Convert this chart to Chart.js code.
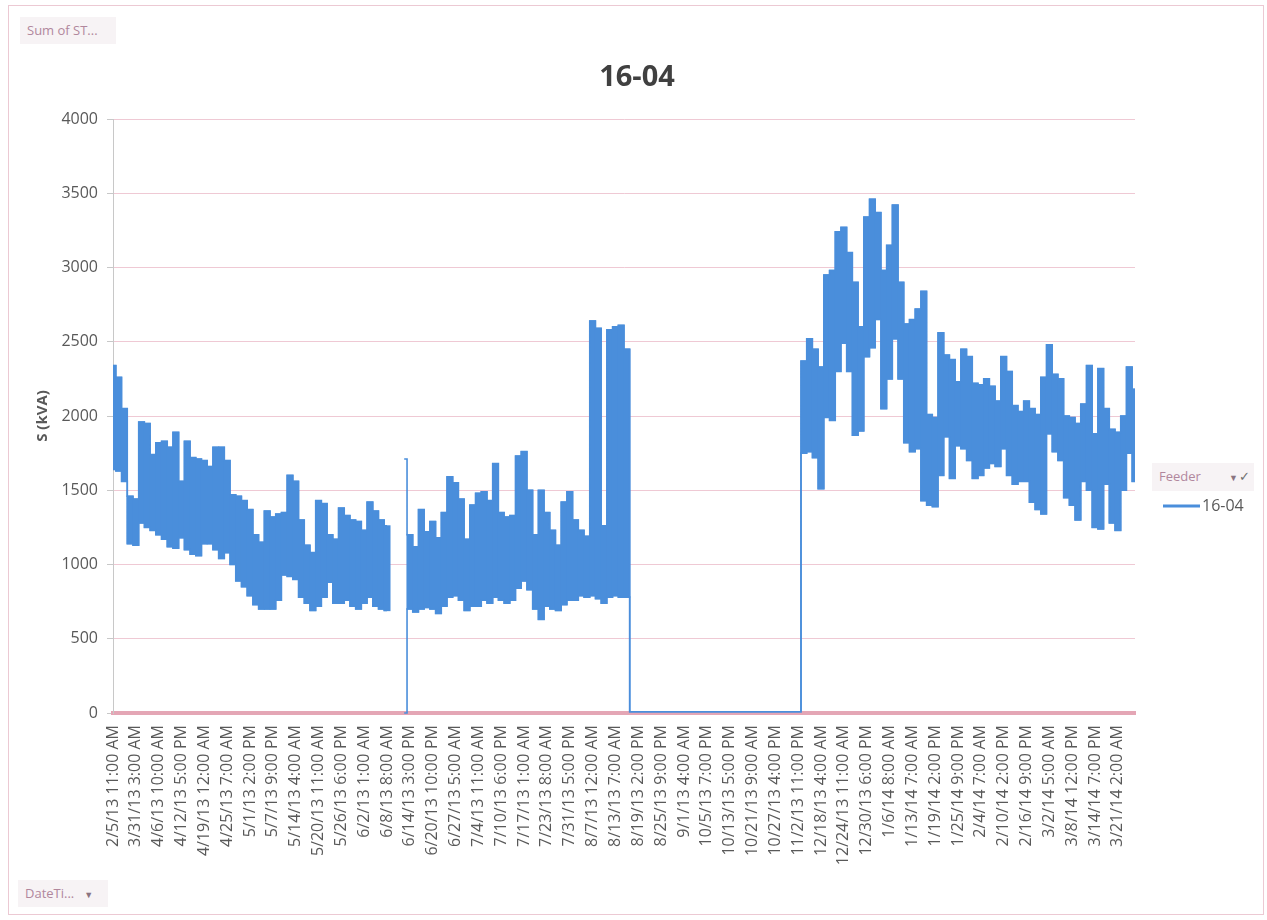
<!DOCTYPE html>
<html>
<head>
<meta charset="utf-8">
<title>16-04</title>
<script src="https://cdn.jsdelivr.net/npm/chart.js@4.4.1/dist/chart.umd.min.js"></script>
<style>
  html, body { margin: 0; padding: 0; background: #ffffff; }
  #wrap { position: relative; width: 1267px; height: 920px; overflow: hidden; }
  #frame { position: absolute; left: 8px; top: 5px; width: 1256px; height: 910px;
           border: 1px solid #ecc9d3; box-sizing: border-box; }
  canvas { position: absolute; left: 0; top: 0; }
  .fieldBtn { position: absolute; background: #f7f3f5; color: #b1879d;
              font: 13px "Open Sans", sans-serif; line-height: 26px; padding: 0 7px;
              box-sizing: border-box; white-space: nowrap; }
  .fieldBtn .arrow { font-size: 9px; margin-left: 10px; color: #8a7480; }
  .fieldBtn .check { color: #6f6f6f; font-size: 13px; margin-left: 1px; }
</style>
</head>
<body>
<div id="wrap">
  <div id="frame"></div>
  <canvas id="chart" width="1267" height="920"></canvas>
  <div class="fieldBtn" style="left:20px; top:17px; width:96px; height:27px;">Sum of ST...</div>
  <div class="fieldBtn" style="left:18px; top:880px; width:90px; height:27px;">DateTi...<span class="arrow">&#9660;</span></div>
  <div class="fieldBtn" style="left:1152px; top:463px; width:102px; height:28px;">Feeder<span class="arrow" style="margin-left:28px;">&#9660;</span><span class="check">&#10003;</span></div>
</div>
<script>
// Chart text
const chartTitle = '16-04';
const seriesName = '16-04';
const yAxisTitle = 'S (kVA)';

// Category labels shown along the date axis (one every few readings)
const tickLabels = [
  '2/5/13 11:00 AM', '3/31/13 3:00 AM', '4/6/13 10:00 AM', '4/12/13 5:00 PM',
  '4/19/13 12:00 AM', '4/25/13 7:00 AM', '5/1/13 2:00 PM', '5/7/13 9:00 PM',
  '5/14/13 4:00 AM', '5/20/13 11:00 AM', '5/26/13 6:00 PM', '6/2/13 1:00 AM',
  '6/8/13 8:00 AM', '6/14/13 3:00 PM', '6/20/13 10:00 PM', '6/27/13 5:00 AM',
  '7/4/13 11:00 AM', '7/10/13 6:00 PM', '7/17/13 1:00 AM', '7/23/13 8:00 AM',
  '7/31/13 5:00 PM', '8/7/13 12:00 AM', '8/13/13 7:00 AM', '8/19/13 2:00 PM',
  '8/25/13 9:00 PM', '9/1/13 4:00 AM', '10/5/13 7:00 PM', '10/13/13 5:00 PM',
  '10/21/13 9:00 AM', '10/27/13 4:00 PM', '11/2/13 11:00 PM', '12/18/13 4:00 AM',
  '12/24/13 11:00 AM', '12/30/13 6:00 PM', '1/6/14 8:00 AM', '1/13/14 7:00 AM',
  '1/19/14 2:00 PM', '1/25/14 9:00 PM', '2/4/14 7:00 AM', '2/10/14 2:00 PM',
  '2/16/14 9:00 PM', '3/2/14 5:00 AM', '3/8/14 12:00 PM', '3/14/14 7:00 PM',
  '3/21/14 2:00 AM'
];
const readingsPerLabel = 4;

// Feeder 16-04 apparent power, kVA: highest and lowest reading in each slot
const upperKVA = [
  2340, 2260, 2050, 1460, 1440, 1960, 1950, 1740, 1820, 1830,
  1790, 1890, 1560, 1830, 1720, 1710, 1700, 1660, 1790, 1790,
  1700, 1470, 1460, 1430, 1370, 1200, 1150, 1360, 1320, 1340,
  1350, 1600, 1560, 1300, 1130, 1080, 1430, 1410, 1200, 1170,
  1380, 1330, 1300, 1290, 1230, 1420, 1360, 1300, 1260, null,
  null, 1710, 1200, 1120, 1370, 1220, 1290, 1180, 1350, 1590,
  1550, 1440, 1170, 1400, 1480, 1490, 1430, 1680, 1350, 1320,
  1330, 1730, 1760, 1500, 1200, 1500, 1350, 1230, 1130, 1420,
  1490, 1300, 1230, 1190, 2640, 2590, 1260, 2580, 2600, 2610,
  2450, 8, 8, 8, 8, 8, 8, 8, 8, 8,
  8, 8, 8, 8, 8, 8, 8, 8, 8, 8,
  8, 8, 8, 8, 8, 8, 8, 8, 8, 8,
  8, 2370, 2520, 2450, 2330, 2950, 2980, 3240, 3270, 3100,
  2900, 2600, 3340, 3460, 3370, 2980, 3150, 3420, 2900, 2620,
  2650, 2720, 2840, 2010, 1990, 2560, 2410, 2380, 2230, 2450,
  2400, 2220, 2210, 2250, 2200, 2100, 2400, 2300, 2070, 2030,
  2100, 2050, 2010, 2260, 2480, 2280, 2250, 2000, 1990, 1950,
  2080, 2340, 1880, 2320, 2050, 1910, 1890, 2000, 2330, 2180
];
const lowerKVA = [
  1640, 1630, 1560, 1140, 1130, 1280, 1250, 1230, 1200, 1170,
  1120, 1110, 1180, 1100, 1070, 1060, 1140, 1140, 1100, 1040,
  1080, 1000, 890, 850, 790, 730, 700, 700, 700, 760,
  930, 920, 900, 780, 740, 690, 720, 780, 880, 740,
  740, 760, 720, 700, 740, 780, 720, 700, 690, null,
  null, 0, 700, 680, 700, 710, 700, 670, 720, 780,
  790, 760, 690, 720, 720, 760, 740, 780, 760, 740,
  760, 840, 890, 830, 700, 630, 720, 700, 690, 730,
  760, 760, 790, 780, 790, 770, 740, 780, 790, 780,
  780, 8, 8, 8, 8, 8, 8, 8, 8, 8,
  8, 8, 8, 8, 8, 8, 8, 8, 8, 8,
  8, 8, 8, 8, 8, 8, 8, 8, 8, 8,
  8, 1750, 1760, 1720, 1510, 1990, 1970, 2300, 2490, 2300,
  1870, 1900, 2400, 2460, 2650, 2050, 2250, 2520, 2250, 1820,
  1760, 1780, 1430, 1400, 1390, 1600, 1860, 1580, 1800, 1780,
  1700, 1580, 1600, 1650, 1680, 1660, 1780, 1600, 1540, 1560,
  1560, 1420, 1370, 1340, 1880, 1760, 1700, 1450, 1400, 1300,
  1560, 1500, 1250, 1240, 1540, 1280, 1230, 1500, 1750, 1560
];

// Y axis range
const yMin = 0, yMax = 4000, yStep = 500;

const categories = upperKVA.map((_, i) =>
  (i % readingsPerLabel === 0 && tickLabels[i / readingsPerLabel]) ? tickLabels[i / readingsPerLabel] : '');

// Solid body of the trace: one floating bar per slot spanning its low..high range
const slotRanges = upperKVA.map((hi, i) =>
  (hi != null && lowerKVA[i] != null && lowerKVA[i] > 8) ? [lowerKVA[i], hi] : null);

const lineBlue = '#4a8edb';
const textGray = '#595959';
const gridPink = 'rgba(233,183,197,0.75)';
const axisPink = '#e4a6b5';
const font = '"Open Sans", sans-serif';

// Title and series key drawn on the canvas
const decorations = {
  id: 'decorations',
  afterDraw(chart) {
    const ctx = chart.ctx;
    ctx.save();
    ctx.fillStyle = '#404040';
    ctx.font = 'bold 29px ' + font;
    ctx.textAlign = 'center';
    ctx.textBaseline = 'middle';
    ctx.fillText(chartTitle, 637, 78);

    const ds = chart.data.datasets[0];
    ctx.strokeStyle = ds.borderColor;
    ctx.lineWidth = 3;
    ctx.beginPath();
    ctx.moveTo(1163, 506);
    ctx.lineTo(1200, 506);
    ctx.stroke();
    ctx.fillStyle = textGray;
    ctx.font = '16px ' + font;
    ctx.textAlign = 'left';
    ctx.fillText(ds.label, 1202, 506);
    ctx.restore();
  }
};

const edgeStyle = {
  type: 'line',
  borderColor: lineBlue,
  backgroundColor: lineBlue,
  borderWidth: 1.6,
  pointRadius: 0,
  stepped: 'middle',
  spanGaps: false,
  fill: false,
  clip: 4
};

new Chart(document.getElementById('chart'), {
  data: {
    labels: categories,
    datasets: [
      Object.assign({ label: seriesName, data: upperKVA }, edgeStyle),
      Object.assign({ label: seriesName + ' low', data: lowerKVA }, edgeStyle),
      {
        type: 'bar',
        label: seriesName + ' range',
        data: slotRanges,
        backgroundColor: lineBlue,
        borderWidth: 0,
        barPercentage: 1,
        categoryPercentage: 1,
        inflateAmount: 0.6
      }
    ]
  },
  options: {
    responsive: false,
    animation: false,
    events: [],
    layout: { padding: { left: 30, top: 119, right: 132, bottom: 0 } },
    plugins: {
      legend: { display: false },
      title: { display: false },
      tooltip: { enabled: false }
    },
    scales: {
      x: {
        type: 'category',
        offset: false,
        grid: { display: false, drawTicks: false, offset: false },
        border: { display: true, color: axisPink, width: 4 },
        ticks: {
          autoSkip: false,
          maxRotation: 90,
          minRotation: 90,
          padding: 12,
          color: textGray,
          font: { family: font, size: 16 }
        },
        afterFit(scale) { scale.height = 207; }
      },
      y: {
        min: yMin,
        max: yMax,
        grid: { color: gridPink, lineWidth: 1, tickLength: 6, tickColor: '#c8c8c8' },
        border: { display: true, color: '#c8c8c8', width: 1 },
        ticks: {
          stepSize: yStep,
          padding: 9,
          color: textGray,
          font: { family: font, size: 16 },
          callback: v => String(v)
        },
        title: {
          display: true,
          text: yAxisTitle,
          color: textGray,
          font: { family: font, size: 15, weight: 'bold' },
          padding: { top: 4, bottom: 4 }
        },
        afterFit(scale) { scale.width = 83; }
      }
    }
  },
  plugins: [decorations]
});
</script>
</body>
</html>
